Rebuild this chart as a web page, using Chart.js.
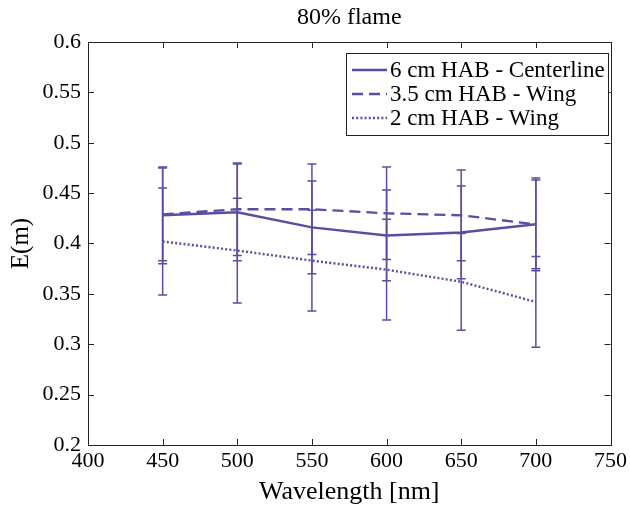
<!DOCTYPE html>
<html>
<head>
<meta charset="utf-8">
<script src="https://cdn.jsdelivr.net/npm/chart.js@4/dist/chart.umd.min.js"></script>
<style>
  html, body { margin: 0; padding: 0; background: #fff; }
  #wrap { width: 630px; height: 511px; }
</style>
</head>
<body>
<div id="wrap"><canvas id="c" width="630" height="511"></canvas></div>
<script>
// data
const wavelengths = [450, 500, 550, 600, 650, 700];
const centerline = [0.428, 0.431, 0.416, 0.408, 0.411, 0.419];
const centerlineErr = [0.048, 0.048, 0.046, 0.045, 0.046, 0.046];
const wing35 = [0.429, 0.434, 0.434, 0.430, 0.428, 0.419];
const wing35Err = [0.046, 0.046, 0.045, 0.046, 0.045, 0.044];
const wing2 = [0.402, 0.393, 0.383, 0.374, 0.362, 0.342];
const wing2Err = [0.053, 0.052, 0.050, 0.050, 0.048, 0.045];
const seriesLabels = ['6 cm HAB - Centerline', '3.5 cm HAB - Wing', '2 cm HAB - Wing'];
const xTicks = [400, 450, 500, 550, 600, 650, 700, 750];
const yTicks = [0.2, 0.25, 0.3, 0.35, 0.4, 0.45, 0.5, 0.55, 0.6];

const purple = '#5a4ea0';
const serif = '"Liberation Serif", "Times New Roman", serif';

function pts(ys) {
  return wavelengths.map(function(x, i) { return {x: x, y: ys[i]}; });
}

// error bars, drawn through the chart scales
const errorBars = {
  id: 'errorBars',
  afterDatasetsDraw(chart) {
    const ctx = chart.ctx;
    const xs = chart.scales.x, ys = chart.scales.y;
    chart.data.datasets.forEach(function(ds) {
      ctx.save();
      ctx.strokeStyle = purple;
      ctx.lineWidth = 1.5;
      ctx.setLineDash([]);
      ds.data.forEach(function(p, i) {
        const e = ds.errors[i];
        const px = xs.getPixelForValue(p.x);
        const top = ys.getPixelForValue(p.y + e);
        const bot = ys.getPixelForValue(p.y - e);
        ctx.beginPath();
        ctx.moveTo(px, top); ctx.lineTo(px, bot);
        ctx.moveTo(px - 4.5, top); ctx.lineTo(px + 4.5, top);
        ctx.moveTo(px - 4.5, bot); ctx.lineTo(px + 4.5, bot);
        ctx.stroke();
      });
      ctx.restore();
    });
  }
};

// matlab style box with inward ticks + legend inside
const boxAndLegend = {
  id: 'boxAndLegend',
  afterDraw(chart) {
    const ctx = chart.ctx;
    const a = chart.chartArea;
    const xs = chart.scales.x, ys = chart.scales.y;
    ctx.save();
    ctx.strokeStyle = '#222';
    ctx.lineWidth = 1;
    ctx.setLineDash([]);
    ctx.strokeRect(Math.round(a.left) + 0.5, Math.round(a.top) + 0.5,
                   Math.round(a.right - a.left), Math.round(a.bottom - a.top));
    ctx.beginPath();
    xTicks.forEach(function(v) {
      const px = Math.round(xs.getPixelForValue(v)) + 0.5;
      ctx.moveTo(px, a.bottom); ctx.lineTo(px, a.bottom - 6);
      ctx.moveTo(px, a.top); ctx.lineTo(px, a.top + 6);
    });
    yTicks.forEach(function(v) {
      const py = Math.round(ys.getPixelForValue(v)) + 0.5;
      ctx.moveTo(a.left, py); ctx.lineTo(a.left + 6, py);
      ctx.moveTo(a.right, py); ctx.lineTo(a.right - 6, py);
    });
    ctx.stroke();

    // legend
    const lx = 346, ly = 53, lw = 262, lh = 82;
    ctx.fillStyle = '#fff';
    ctx.fillRect(lx, ly, lw, lh);
    ctx.strokeStyle = '#222';
    ctx.strokeRect(lx + 0.5, ly + 0.5, lw, lh);
    ctx.font = '23px ' + serif;
    ctx.textBaseline = 'middle';
    chart.data.datasets.forEach(function(ds, i) {
      const y = ly + 17 + i * 24;
      ctx.strokeStyle = ds.borderColor;
      ctx.lineWidth = ds.borderWidth;
      ctx.setLineDash(ds.borderDash || []);
      ctx.beginPath();
      ctx.moveTo(352, y); ctx.lineTo(387, y);
      ctx.stroke();
      ctx.fillStyle = '#000';
      ctx.fillText(ds.label, 390, y + 1);
    });
    ctx.restore();
  }
};

new Chart(document.getElementById('c'), {
  type: 'line',
  data: {
    datasets: [
      {label: seriesLabels[0], data: pts(centerline), errors: centerlineErr,
       borderColor: purple, borderWidth: 2.5, pointRadius: 0, tension: 0, fill: false},
      {label: seriesLabels[1], data: pts(wing35), errors: wing35Err,
       borderColor: purple, borderWidth: 2.3, borderDash: [11, 6], pointRadius: 0, tension: 0, fill: false},
      {label: seriesLabels[2], data: pts(wing2), errors: wing2Err,
       borderColor: purple, borderWidth: 2.4, borderDash: [2, 2.2], pointRadius: 0, tension: 0, fill: false}
    ]
  },
  options: {
    responsive: false,
    animation: false,
    layout: {padding: {left: 0, right: 18, top: 0, bottom: 0}},
    plugins: {legend: {display: false}, tooltip: {enabled: false}},
    scales: {
      x: {
        type: 'linear', position: 'bottom', min: 400, max: 750,
        afterBuildTicks(s) { s.ticks = xTicks.map(function(v) { return {value: v}; }); },
        afterFit(s) { s.height = 66; },
        grid: {display: false, drawTicks: false},
        border: {display: false},
        ticks: {font: {family: serif, size: 22}, color: '#000', padding: 3, maxRotation: 0, autoSkip: false},
        title: {display: true, text: 'Wavelength [nm]', font: {family: serif, size: 26}, color: '#000', padding: {top: 0, bottom: 3}}
      },
      x2: {
        type: 'linear', position: 'top', min: 400, max: 750,
        afterFit(s) { s.height = 42; },
        grid: {display: false, drawTicks: false},
        border: {display: false},
        ticks: {display: false},
        title: {display: true, text: '80% flame', font: {family: serif, size: 24}, color: '#000', padding: {top: 3, bottom: 0}}
      },
      y: {
        type: 'linear', min: 0.2, max: 0.6,
        afterBuildTicks(s) { s.ticks = yTicks.map(function(v) { return {value: v}; }); },
        afterFit(s) { s.width = 88; },
        grid: {display: false, drawTicks: false},
        border: {display: false},
        ticks: {font: {family: serif, size: 22}, color: '#000', padding: 7,
                callback: function(v) { return String(+v.toFixed(2)); }},
        title: {display: true, text: 'E(m)', font: {family: serif, size: 25}, color: '#000', padding: {top: 6, bottom: 0}}
      }
    }
  },
  plugins: [errorBars, boxAndLegend]
});
</script>
</body>
</html>
